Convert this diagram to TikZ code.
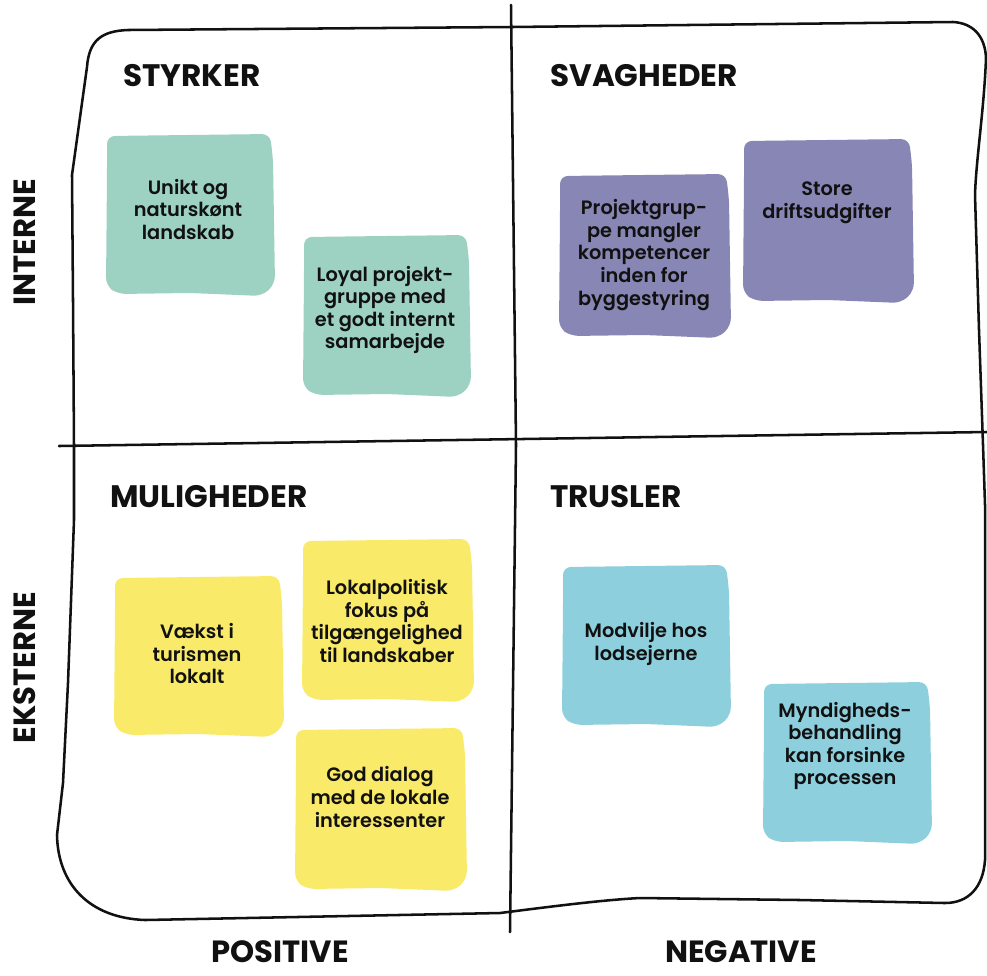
\documentclass[tikz,border=0pt]{standalone}
\usepackage{fontspec}
\setmainfont{Poppins}
\newfontfamily\notefont{Poppins}[UprightFont=* SemiBold]
\usetikzlibrary{positioning}

\definecolor{notegreen}{RGB}{157,209,194}
\definecolor{notepurple}{RGB}{135,134,181}
\definecolor{noteyellow}{RGB}{249,234,106}
\definecolor{noteblue}{RGB}{142,207,222}
\definecolor{inkblack}{RGB}{17,17,17}

% sticky note: colour, left, top, right, bottom
\newcommand{\postit}[5]{%
\fill[#1, rounded corners=6pt] ({#2+1},{#3+2}) -- ({#4-4},{#3}) -- ({#4-1},{#3+25}) -- ({#4+1},{#5-12}) -- ({#4-12},{#5}) -- ({(#2+#4)/2},{#5-3}) -- ({#2+12},{#5-2}) -- ({#2},{#5-10}) -- ({#2+1},{#3+40}) -- cycle;}

\tikzset{
  notetext/.style={font=\notefont\fontsize{14.5}{16.9}\selectfont, align=center, text=inkblack, inner sep=0pt},
  quadtitle/.style={font=\bfseries\fontsize{23.3}{27}\selectfont, anchor=base west, text=inkblack, inner sep=0pt},
  axislabel/.style={font=\bfseries\fontsize{23}{27}\selectfont, anchor=base, text=inkblack, inner sep=0pt},
  ink/.style={draw=inkblack, line width=1.9pt, line cap=round, line join=round}
}

\begin{document}
\begin{tikzpicture}[x=0.75pt,y=0.75pt,yscale=-1,xscale=1]
\useasboundingbox (0,0) rectangle (987,975);

%Shape: Frame
\draw[ink] (87,67) .. controls (89,40) and (102,31) .. (128,30) -- (512,27) -- (953,22)
  .. controls (972,23) and (985,35) .. (986,58) .. controls (984,110) and (976,160) .. (975,195)
  -- (979,330) -- (983,445) -- (985,505) -- (985,860)
  .. controls (983,888) and (968,903) .. (945,903) -- (800,900) -- (640,898)
  .. controls (600,900) and (540,908) .. (500,913) -- (145,920)
  .. controls (90,918) and (58,885) .. (57,835) -- (63,783) -- (68,683) -- (74,520) -- (74,446)
  -- (73,300) -- (72,175) -- cycle;

%Straight Lines: dividers
\coordinate (vtop) at (511,5);
\coordinate (vmid) at (516,445);
\coordinate (vbot) at (510,932);
\coordinate (hleft) at (59,446);
\coordinate (hright) at (987,432);
\draw[ink] (vtop) -- (vmid) -- (vbot);
\draw[ink] (hleft) -- (hright);

%Shape: sticky notes
\postit{notegreen}{106}{134}{274}{296}
\postit{notegreen}{303}{235}{470}{397}
\postit{notepurple}{559}{174}{730}{338}
\postit{notepurple}{743}{139}{913}{303}
\postit{noteyellow}{114}{576}{283}{737}
\postit{noteyellow}{302}{539}{473}{702}
\postit{noteyellow}{295}{728}{466}{891}
\postit{noteblue}{562}{565}{730}{727}
\postit{noteblue}{763}{682}{931}{844}

% Text Node
\node[notetext] (unikt) at (188,209.5) {Unikt og\\naturskønt\\landskab};
\node[notetext] (loyal) at (385,310) {Loyal projekt-\\gruppe med\\et godt internt\\samarbejde};
\node[notetext] (projekt) at (644,255) {Projektgrup-\\pe mangler\\kompetencer\\inden for\\byggestyring};
\node[notetext] (drift) at (827,203) {Store\\driftsudgifter};
\node[notetext] (vaekst) at (197,653.5) {Vækst i\\turismen\\lokalt};
\node[notetext] (lokal) at (387,621) {Lokalpolitisk\\fokus på\\tilgængelighed\\til landskaber};
\node[notetext] (dialog) at (380,797) {God dialog\\med de lokale\\interessenter};
\node[notetext] (modvilje) at (646,644) {Modvilje hos\\lodsejerne};
\node[notetext] (myndighed) at (845,746) {Myndigheds-\\behandling\\kan forsinke\\processen};

% Text Node
\node[quadtitle] (styrker) at (123,86) {STYRKER};
\node[quadtitle] (svagheder) at (550,86) {SVAGHEDER};
\node[quadtitle] (muligheder) at (110,507) {MULIGHEDER};
\node[quadtitle] (trusler) at (550,507) {TRUSLER};

% Text Node
\node[axislabel, rotate=90] (interne) at (35,242.5) {INTERNE};
\node[axislabel, rotate=90] (eksterne) at (35,667.5) {EKSTERNE};
\node[axislabel] (positive) at (280,962) {POSITIVE};
\node[axislabel] (negative) at (741,962) {NEGATIVE};

\end{tikzpicture}
\end{document}
